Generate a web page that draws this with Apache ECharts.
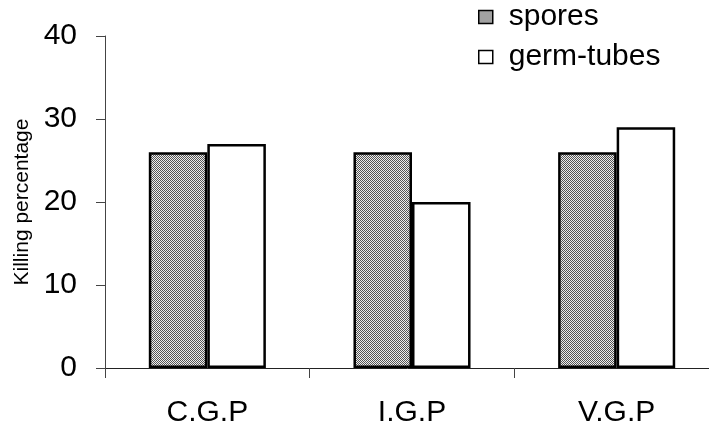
<!DOCTYPE html>
<html>
<head>
<meta charset="utf-8">
<script src="https://cdn.jsdelivr.net/npm/echarts@6/dist/echarts.min.js"></script>
<style>
html,body{margin:0;padding:0;background:#fff;}
#chart{width:709px;height:434px;}
</style>
</head>
<body>
<div id="chart"></div>
<script>
const categories = ['C.G.P', 'I.G.P', 'V.G.P'];
const sporesValues = [26, 26, 26];
const germTubeValues = [27, 20, 29];
const yTicks = [0, 10, 20, 30, 40];

function makePattern() {
  const c = document.createElement('canvas');
  c.width = 2; c.height = 2;
  const ctx = c.getContext('2d');
  ctx.fillStyle = '#eeeeee'; ctx.fillRect(0, 0, 2, 2);
  ctx.fillStyle = '#555555';
  ctx.fillRect(0, 0, 1, 1);
  ctx.fillRect(1, 1, 1, 1);
  return c;
}
const pat = makePattern();
const font = 'Liberation Sans, Arial, sans-serif';

const chart = echarts.init(document.getElementById('chart'), null, {renderer: 'canvas'});
chart.setOption({
  animation: false,
  backgroundColor: '#ffffff',
  grid: {left: 105, top: 36, bottom: 66, width: 614, containLabel: false, outerBoundsMode: 'none'},
  legend: {
    orient: 'vertical',
    left: 473, top: -3,
    icon: 'rect',
    itemWidth: 14, itemHeight: 13,
    itemGap: 10,
    textStyle: {fontFamily: font, fontSize: 30, color: '#000', padding: [0, 0, 0, 11]},
    data: [
      {name: 'spores', itemStyle: {color: {image: pat, repeat: 'repeat'}, borderColor: '#000', borderWidth: 1.5}},
      {name: 'germ-tubes', itemStyle: {color: '#fff', borderColor: '#000', borderWidth: 1.5}}
    ]
  },
  xAxis: {
    type: 'category',
    data: categories,
    axisLine: {lineStyle: {color: '#222', width: 1}},
    axisTick: {show: true, length: 10, alignWithLabel: false, lineStyle: {color: '#444'}},
    axisLabel: {fontFamily: font, fontSize: 30, color: '#000', margin: 30},
    splitLine: {show: false}
  },
  yAxis: {
    type: 'value',
    min: 0, max: 40, interval: 10,
    name: 'Killing percentage',
    nameLocation: 'middle',
    nameGap: 72,
    nameTextStyle: {fontFamily: font, fontSize: 21, color: '#000'},
    axisLine: {show: true, lineStyle: {color: '#444', width: 1}},
    axisTick: {show: true, length: 9, lineStyle: {color: '#444'}},
    axisLabel: {fontFamily: font, fontSize: 30, color: '#000', margin: 28,
      formatter: v => yTicks.includes(v) ? String(v) : ''},
    splitLine: {show: false}
  },
  series: [
    {
      name: 'spores', type: 'bar', data: sporesValues,
      barGap: '0%', barCategoryGap: '42.8%',
      itemStyle: {color: {image: pat, repeat: 'repeat'}, borderColor: '#000', borderWidth: 2.5}
    },
    {
      name: 'germ-tubes', type: 'bar', data: germTubeValues,
      itemStyle: {color: '#fff', borderColor: '#000', borderWidth: 2.5}
    }
  ]
});
</script>
</body>
</html>
